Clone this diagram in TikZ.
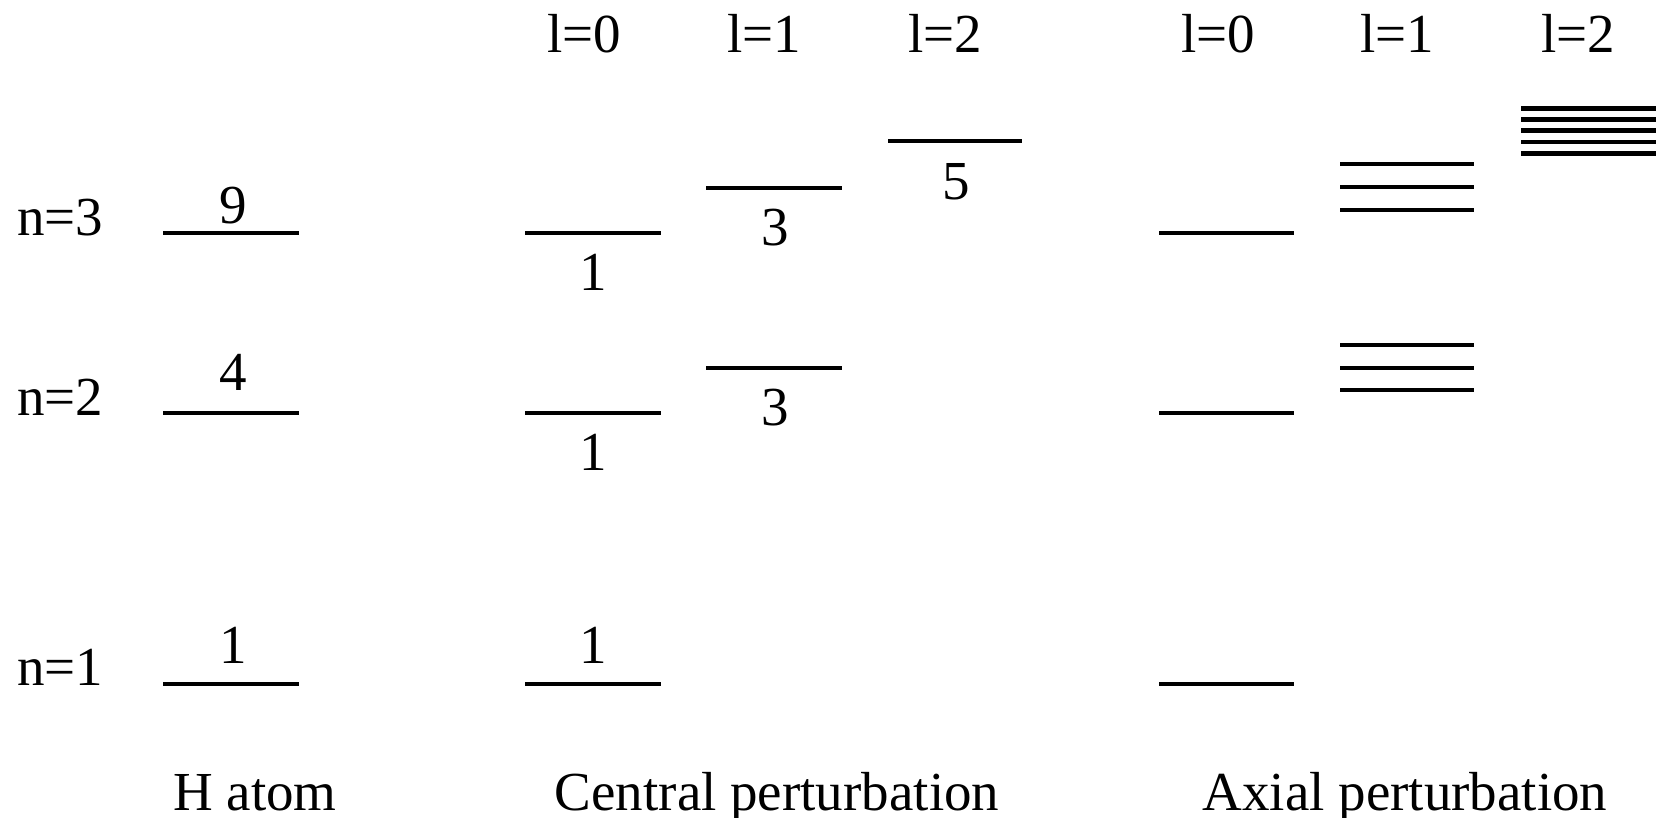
\documentclass[tikz,border=0pt]{standalone}
\usepackage{fontspec}
\setmainfont{Liberation Serif}
\begin{document}
\begin{tikzpicture}[x=0.5pt,y=-0.5pt,
  lvl/.style={line width=2.35pt},
  txt/.style={inner sep=0pt,anchor=base,font=\fontsize{27.5}{32}\selectfont},
  ntxt/.style={inner sep=0pt,anchor=base west,font=\fontsize{27.5}{32}\selectfont}]
\useasboundingbox (0,0) rectangle (1663,818);
% headers
\node[txt] (h1) at (584,53) {l=0};
\node[txt] (h2) at (764,53) {l=1};
\node[txt] (h3) at (945,53) {l=2};
\node[txt] (h4) at (1218,53) {l=0};
\node[txt] (h5) at (1397,53) {l=1};
\node[txt] (h6) at (1578,53) {l=2};
% n labels
\node[ntxt] (n3) at (17,235) {n=3};
\node[ntxt] (n2) at (17,415) {n=2};
\node[ntxt] (n1) at (17,685) {n=1};
% H atom
\draw[lvl] (163,233) -- (299,233);
\draw[lvl] (163,413) -- (299,413);
\draw[lvl] (163,684) -- (299,684);
\node[txt] (d9) at (233,223) {9};
\node[txt] (d4) at (233,390) {4};
\node[txt] (d1) at (233,663) {1};
% Central l=0
\draw[lvl] (525,233) -- (661,233);
\draw[lvl] (525,413) -- (661,413);
\draw[lvl] (525,684) -- (661,684);
\node[txt] (c31) at (593,290) {1};
\node[txt] (c21) at (593,470) {1};
\node[txt] (c11) at (593,663) {1};
% Central l=1
\draw[lvl] (706,188) -- (842,188);
\draw[lvl] (706,368) -- (842,368);
\node[txt] (c33) at (775,245) {3};
\node[txt] (c23) at (775,425) {3};
% Central l=2
\draw[lvl] (888,141) -- (1022,141);
\node[txt] (c35) at (956,199) {5};
% Axial l=0
\draw[lvl] (1159,233) -- (1294,233);
\draw[lvl] (1159,413) -- (1294,413);
\draw[lvl] (1159,684) -- (1294,684);
% Axial l=1
\foreach \y in {164,187,210,345,368,390} \draw[lvl] (1340,\y) -- (1474,\y);
% Axial l=2
\foreach \y in {108.3,119.7,130.5,142,153.7} \draw[lvl] (1521,\y) -- (1656,\y);
% bottom labels
\node[txt] (b1) at (255,810) {H atom};
\node[txt] (b2) at (777,810) {Central perturbation};
\node[txt] (b3) at (1405,810) {Axial perturbation};
\end{tikzpicture}
\end{document}
